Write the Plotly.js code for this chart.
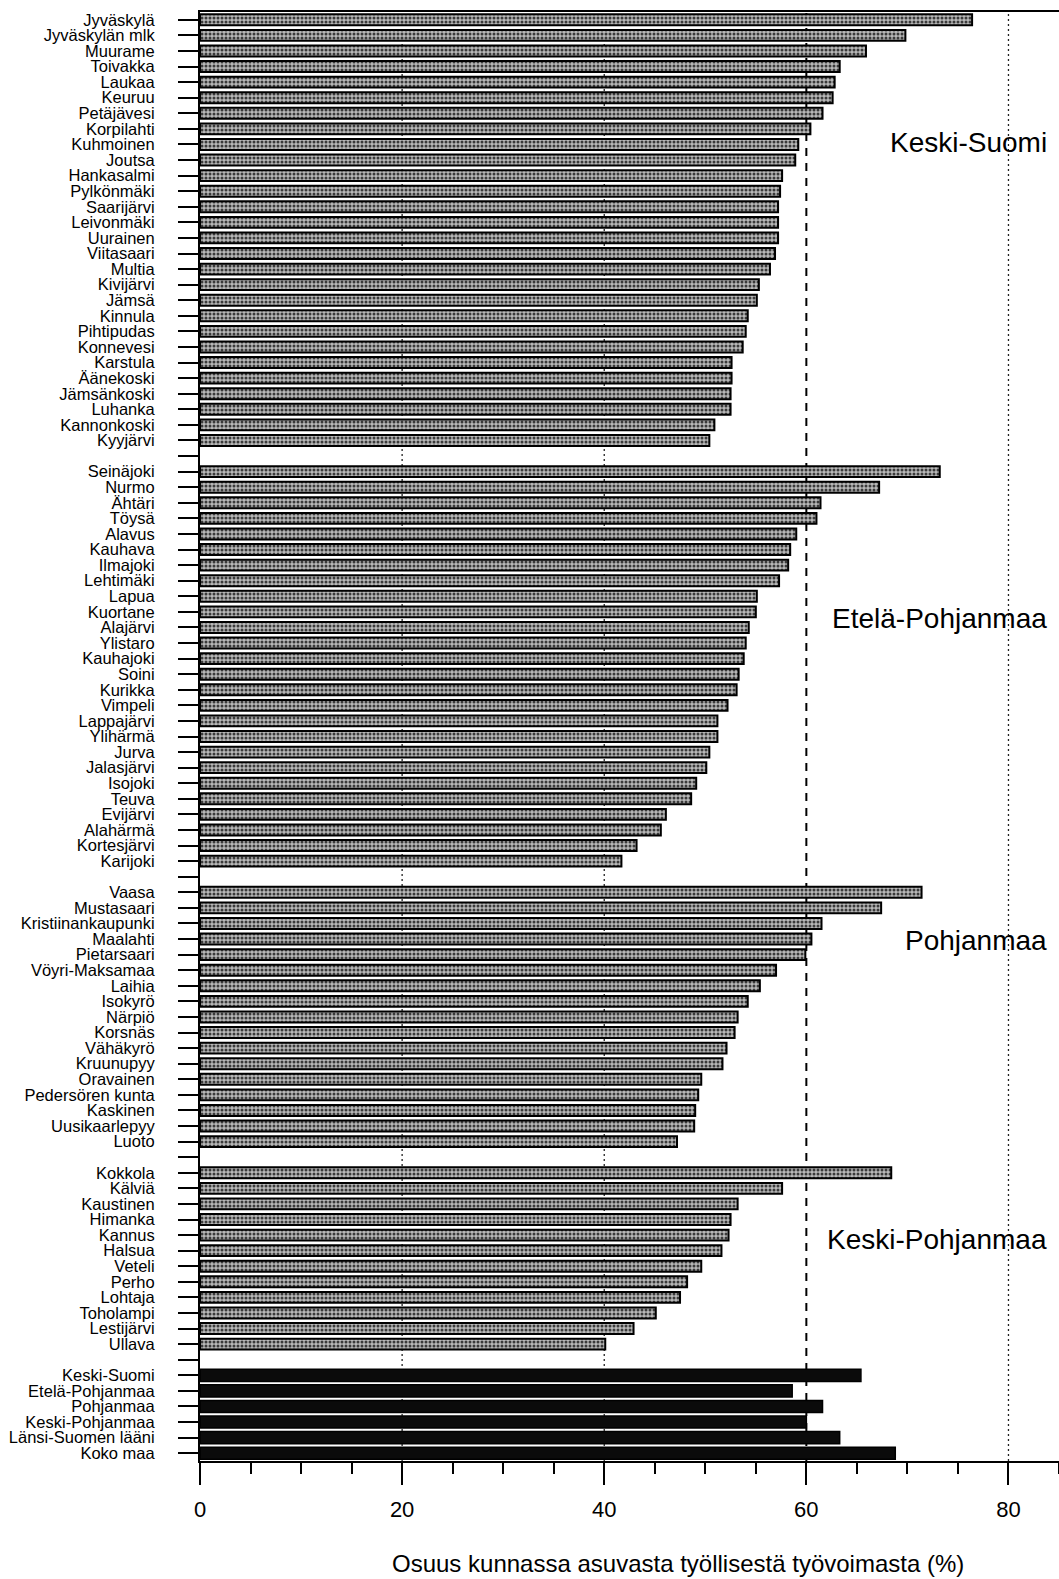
<!DOCTYPE html>
<html>
<head>
<meta charset="utf-8">
<script src="https://cdn.plot.ly/plotly-3.0.1.min.js"></script>
<style>
  body { margin: 0; background: #fff; }
  #chart { width: 1059px; height: 1579px; }
</style>
</head>
<body>
<div id="chart"></div>
<script>
// Keski-Suomi
var ksNames = ['Jyväskylä', 'Jyväskylän mlk', 'Muurame', 'Toivakka', 'Laukaa', 'Keuruu',
    'Petäjävesi', 'Korpilahti', 'Kuhmoinen', 'Joutsa', 'Hankasalmi', 'Pylkönmäki',
    'Saarijärvi', 'Leivonmäki', 'Uurainen', 'Viitasaari', 'Multia', 'Kivijärvi', 'Jämsä',
    'Kinnula', 'Pihtipudas', 'Konnevesi', 'Karstula', 'Äänekoski', 'Jämsänkoski',
    'Luhanka', 'Kannonkoski', 'Kyyjärvi']
var ksValues = [76.4, 69.8, 65.9, 63.3, 62.8, 62.6, 61.6, 60.4, 59.2, 58.9, 57.6, 57.4,
    57.2, 57.2, 57.2, 56.9, 56.4, 55.3, 55.1, 54.2, 54.0, 53.7, 52.6, 52.6, 52.5,
    52.5, 50.9, 50.4]

// Etelä-Pohjanmaa
var epNames = ['Seinäjoki', 'Nurmo', 'Ähtäri', 'Töysä', 'Alavus', 'Kauhava', 'Ilmajoki',
    'Lehtimäki', 'Lapua', 'Kuortane', 'Alajärvi', 'Ylistaro', 'Kauhajoki', 'Soini',
    'Kurikka', 'Vimpeli', 'Lappajärvi', 'Ylihärmä', 'Jurva', 'Jalasjärvi', 'Isojoki',
    'Teuva', 'Evijärvi', 'Alahärmä', 'Kortesjärvi', 'Karijoki']
var epValues = [73.2, 67.2, 61.4, 61.0, 59.0, 58.4, 58.2, 57.3, 55.1, 55.0, 54.3, 54.0,
    53.8, 53.3, 53.1, 52.2, 51.2, 51.2, 50.4, 50.1, 49.1, 48.6, 46.1, 45.6, 43.2, 41.7]

// Pohjanmaa
var pNames = ['Vaasa', 'Mustasaari', 'Kristiinankaupunki', 'Maalahti', 'Pietarsaari',
    'Vöyri-Maksamaa', 'Laihia', 'Isokyrö', 'Närpiö', 'Korsnäs', 'Vähäkyrö', 'Kruunupyy',
    'Oravainen', 'Pedersören kunta', 'Kaskinen', 'Uusikaarlepyy', 'Luoto']
var pValues = [71.4, 67.4, 61.5, 60.5, 59.9, 57.0, 55.4, 54.2, 53.2, 52.9, 52.1, 51.7,
    49.6, 49.3, 49.0, 48.9, 47.2]

// Keski-Pohjanmaa
var kpNames = ['Kokkola', 'Kälviä', 'Kaustinen', 'Himanka', 'Kannus', 'Halsua', 'Veteli',
    'Perho', 'Lohtaja', 'Toholampi', 'Lestijärvi', 'Ullava']
var kpValues = [68.4, 57.6, 53.2, 52.5, 52.3, 51.6, 49.6, 48.2, 47.5, 45.1, 42.9, 40.1]

// maakunnat ja vertailu
var sumNames = ['Keski-Suomi', 'Etelä-Pohjanmaa', 'Pohjanmaa', 'Keski-Pohjanmaa',
    'Länsi-Suomen lääni', 'Koko maa']
var sumValues = [65.4, 58.6, 61.6, 60.0, 63.3, 68.8]

var groupLabels = ['Keski-Suomi', 'Etelä-Pohjanmaa', 'Pohjanmaa', 'Keski-Pohjanmaa']

var font = 'Liberation Sans, Arial, Helvetica, sans-serif'

function make_figure() {
    var groups = [[ksNames, ksValues], [epNames, epValues], [pNames, pValues], [kpNames, kpValues]]
    var rowY = [], rowX = [], rowName = [], tickVals = [], tickText = []
    var pos = 1

    groups.forEach(function (g) {
        for (let i = 0; i < g[0].length; i++) {
            rowY.push(pos)
            rowX.push(g[1][i])
            rowName.push(g[0][i])
            tickVals.push(pos)
            tickText.push(g[0][i])
            pos++
        }
        tickVals.push(pos) // empty row between groups
        tickText.push('')
        pos++
    })

    var sumY = []
    for (let i = 0; i < sumNames.length; i++) {
        sumY.push(pos)
        tickVals.push(pos)
        tickText.push(sumNames[i])
        pos++
    }
    var nRows = pos - 1

    var municipalities = {
        type: 'bar',
        orientation: 'h',
        x: rowX,
        y: rowY,
        width: 0.7,
        marker: {
            color: '#a6a6a6',
            line: { color: '#000', width: 2 },
            pattern: { shape: '.', fgcolor: '#3a3a3a', bgcolor: '#b8b8b8', size: 4, solidity: 0.45 }
        },
        text: rowName,
        textposition: 'none',
        hoverinfo: 'x+text'
    }

    var summary = {
        type: 'bar',
        orientation: 'h',
        x: sumValues,
        y: sumY,
        width: 0.78,
        marker: { color: '#0b0b0b', line: { color: '#000', width: 1.5 } },
        text: sumNames,
        textposition: 'none',
        hoverinfo: 'x+text'
    }

    // group label rows
    var labelRows = [8.9, 39.4, 60.1, 79.3]
    var annotations = groupLabels.map(function (t, i) {
        return {
            text: t, x: 84, y: labelRows[i], xref: 'x', yref: 'y',
            xanchor: 'right', yanchor: 'middle', showarrow: false,
            font: { family: font, size: 28, color: '#000' }
        }
    })
    annotations.push({
        text: 'Osuus kunnassa asuvasta työllisestä työvoimasta (%)',
        x: 0.5565, y: -0.071, xref: 'paper', yref: 'paper',
        xanchor: 'center', yanchor: 'middle', showarrow: false,
        font: { family: font, size: 24, color: '#000' }
    })

    // reference lines: dotted at 20, 40, 80, dashed at 60
    var refLines = [20, 40, 60, 80]
    var shapes = refLines.map(function (v) {
        return {
            type: 'line', layer: 'below',
            x0: v, x1: v, y0: 0, y1: 1, yref: 'paper',
            line: v === 60
                ? { color: '#000', width: 2, dash: '8px,7px' }
                : { color: '#222', width: 1.3, dash: '2px,3px' }
        }
    })

    var layout = {
        width: 1059,
        height: 1579,
        margin: { l: 200, r: 0, t: 12, b: 118 },
        paper_bgcolor: '#fff',
        plot_bgcolor: '#fff',
        showlegend: false,
        font: { family: font, color: '#000' },
        xaxis: {
            range: [0, 85],
            tickvals: [0, 20, 40, 60, 80],
            ticks: 'outside', ticklen: 22, tickwidth: 2, tickcolor: '#000',
            tickfont: { family: font, size: 22, color: '#000' },
            minor: { dtick: 5, tick0: 0, ticks: 'outside', ticklen: 11, tickwidth: 1.5, tickcolor: '#000', showgrid: false },
            showline: true, linewidth: 2, linecolor: '#000', mirror: true,
            showgrid: false, zeroline: false,
            ticklabelstandoff: 6
        },
        yaxis: {
            range: [nRows + 0.5, 0.5],
            tickvals: tickVals,
            ticktext: tickText,
            ticks: 'outside', ticklen: 20, tickwidth: 2, tickcolor: '#000',
            tickfont: { family: font, size: 16.5, color: '#000' },
            ticklabelstandoff: 20,
            showline: true, linewidth: 2, linecolor: '#000',
            showgrid: false, zeroline: false
        },
        shapes: shapes,
        annotations: annotations
    }

    Plotly.newPlot('chart', [municipalities, summary], layout, { displayModeBar: false })
}

make_figure()
</script>
</body>
</html>
